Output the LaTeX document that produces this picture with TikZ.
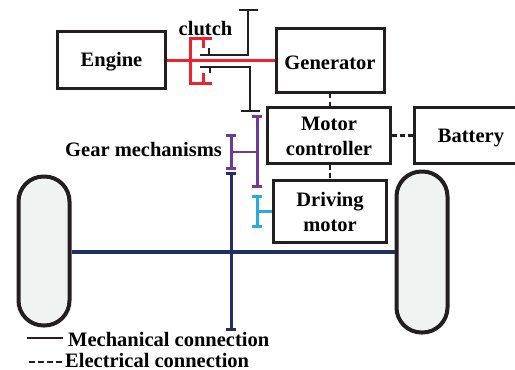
\documentclass[tikz,border=0pt]{standalone}
\usepackage{fontspec}
\setmainfont{Liberation Serif}
\usetikzlibrary{arrows.meta}
\newcommand{\lift}[1][18.5pt]{\rule{0pt}{#1}}
\definecolor{clutchred}{RGB}{237,34,46}
\definecolor{gearpurple}{RGB}{112,58,150}
\definecolor{motorblue}{RGB}{41,171,226}
\definecolor{axlenavy}{RGB}{32,48,100}
\definecolor{tyregrey}{RGB}{241,243,242}
\definecolor{linkgrey}{RGB}{35,31,32}
\tikzset{
    unit/.style={draw=linkgrey, line width=3pt, align=center, font=\bfseries\fontsize{20.5}{25}\selectfont, inner sep=0pt},
    wheel/.style={draw=linkgrey, line width=4pt, fill=tyregrey, rounded corners=25pt},
    label/.style={font=\bfseries\fontsize{20.5}{22}\selectfont, inner sep=0pt},
    shaft/.style={line width=2.2pt, draw=linkgrey},
    gear/.style={line width=3pt, {Bar[width=10pt,line width=3pt]}-{Bar[width=10pt,line width=3pt]}},
    wire/.style={line width=2.4pt, draw=linkgrey, dash pattern=on 4.5pt off 3.5pt},
}
\begin{document}
\begin{tikzpicture}[x=1pt,y=-1pt]
    \useasboundingbox (0,0) rectangle (515,370);
    % units
    \node (engine) [unit, minimum width=108pt, minimum height=57pt] at (111.5,60) {\lift Engine};
    \node (generator) [unit, minimum width=108pt, minimum height=64pt] at (330,60) {\lift Generator};
    \node (controller) [unit, minimum width=123pt, minimum height=56pt] at (329,135.5) {\lift[15.5pt]Motor\\controller};
    \node (battery) [unit, minimum width=114pt, minimum height=56pt] at (471,135.5) {\lift Battery};
    \node (drive) [unit, minimum width=113pt, minimum height=62pt] at (330,211.5) {\lift[15.5pt]Driving\\motor};
    \node (leftwheel) [wheel, minimum width=51pt, minimum height=149pt] at (44,251) {};
    \node (rightwheel) [wheel, minimum width=51pt, minimum height=161pt] at (422,252) {};
    % texts
    \node (clutchtext) [label] at (205.5,29) {clutch};
    \node (geartext) [label, anchor=east] at (222,149) {Gear mechanisms};
    \node (mechtext) [label, anchor=west] at (68,339) {Mechanical connection};
    \node (electext) [label, anchor=west] at (65,360) {Electrical connection};
    % free ends
    \coordinate (uptop) at (248,10);
    \coordinate (upcorner) at (248,55);
    \coordinate (upend) at (200,55);
    \coordinate (lowtop) at (250,111);
    \coordinate (lowcorner) at (250,67);
    \coordinate (lowend) at (200,67);
    \coordinate (redtop) at (190,38);
    \coordinate (redlow) at (190,83);
    \coordinate (gearA) at (257,115);
    \coordinate (gearB) at (257,188);
    \coordinate (gearC) at (231,134);
    \coordinate (gearD) at (231,170);
    \coordinate (gearE) at (231,152);
    \coordinate (gearF) at (257,152);
    \coordinate (blueA) at (257,195);
    \coordinate (blueB) at (257,228);
    \coordinate (blueC) at (257,211);
    \coordinate (axleA) at (231,172);
    \coordinate (axleB) at (231,331);
    \coordinate (mechA) at (27,338);
    \coordinate (mechB) at (63,338);
    \coordinate (elecA) at (29,362);
    \coordinate (elecB) at (63,362);
    % clutch
    \draw [line width=3pt, clutchred] (engine) -- (generator);
    \draw [line width=3pt, clutchred] (212,38) -- (redtop) -- (redlow) -- (212,83);
    \draw [line width=3pt, clutchred] (203,38) -- (203,48);
    \draw [line width=3pt, clutchred] (203,83) -- (203,73);
    \draw [shaft] (239,10) -- (258,10);
    \draw [shaft] (uptop) -- (upcorner) -- (upend);
    \draw [shaft] (209,48) -- (209,55);
    \draw [shaft] (241,111) -- (260,111);
    \draw [shaft] (lowtop) -- (lowcorner) -- (lowend);
    \draw [shaft] (210,67) -- (210,73);
    % gears
    \draw [gear, gearpurple] (gearA) -- (gearB);
    \draw [gear, gearpurple] (gearC) -- (gearD);
    \draw [line width=2.4pt, gearpurple] (gearE) -- (gearF);
    \draw [gear, motorblue] (blueA) -- (blueB);
    \draw [line width=3pt, motorblue] (blueC) -- (blueC -| drive.west);
    \draw [gear, axlenavy] (axleA) -- (axleB);
    \draw [line width=4pt, axlenavy] (rightwheel.west -| leftwheel.east) -- (rightwheel.west);
    % wires
    \draw [wire] (generator.south) -- (generator |- controller.north);
    \draw [wire] (controller.east) -- (battery.west);
    \draw [wire] (controller.south -| drive) -- (drive.north);
    % legend
    \draw [line width=2.4pt, linkgrey] (mechA) -- (mechB);
    \draw [line width=2.4pt, linkgrey, dash pattern=on 6pt off 3pt] (elecA) -- (elecB);
\end{tikzpicture}
\end{document}
